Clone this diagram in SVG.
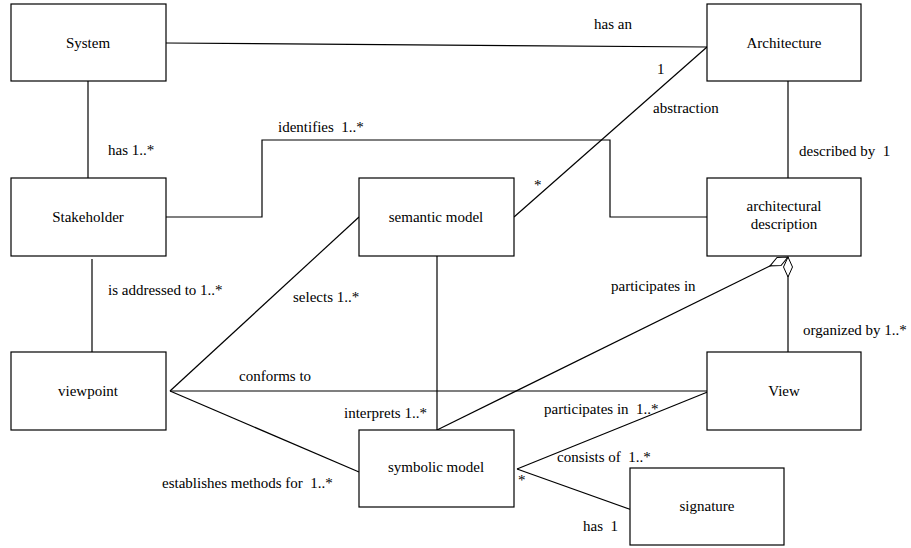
<svg xmlns="http://www.w3.org/2000/svg" width="911" height="548" viewBox="0 0 911 548">
<style>
  .box { fill: #ffffff; stroke: #000000; stroke-width: 1.2; }
  .conn { fill: none; stroke: #000000; stroke-width: 1.2; }
  .t { font-family: 'Liberation Serif', 'Times New Roman', serif; font-size: 15px; fill: #000000; }
  .c { text-anchor: middle; }
</style>
<defs>
  <marker id="diamond" markerUnits="userSpaceOnUse" viewBox="0 0 22 10" refX="21" refY="5" markerWidth="22" markerHeight="10" orient="auto">
    <path d="M1,5 L11,0.5 L21,5 L11,9.5 Z" fill="#ffffff" stroke="#000000" stroke-width="1"/>
  </marker>
</defs>
<rect width="911" height="548" fill="#ffffff"/>
<g id="connectors">
  <path class="conn" d="M166,43 L707,47"/>
  <path class="conn" d="M88,81 L88,182"/>
  <path class="conn" d="M166,217 L262,217 L262,140 L610,140 L610,217 L707,217"/>
  <path class="conn" d="M92,259 L92,352"/>
  <path class="conn" d="M514,217 L707,47"/>
  <path class="conn" d="M170,391 L359,217"/>
  <path class="conn" d="M170,391 L707,391"/>
  <path class="conn" d="M170,391 L359,472"/>
  <path class="conn" d="M437,256 L437,430"/>
  <path class="conn" d="M437,430 L788,257" marker-end="url(#diamond)"/>
  <path class="conn" d="M788,352 L788,257" marker-end="url(#diamond)"/>
  <path class="conn" d="M517,469 L710,391"/>
  <path class="conn" d="M517,469 L632,510"/>
  <path class="conn" d="M788,81 L788,178"/>
  <g class="t">
    <text x="594" y="29">has an</text>
    <text x="657" y="74">1</text>
    <text x="653" y="113">abstraction</text>
    <text x="534" y="190">*</text>
    <text x="799" y="156">described by&#160; 1</text>
    <text x="278" y="132">identifies&#160; 1..*</text>
    <text x="108" y="155">has 1..*</text>
    <text x="108" y="295">is addressed to 1..*</text>
    <text x="293" y="302">selects 1..*</text>
    <text x="239" y="381">conforms to</text>
    <text x="344" y="418">interprets 1..*</text>
    <text x="162" y="488">establishes methods for&#160; 1..*</text>
    <text x="611" y="291">participates in</text>
    <text x="803" y="335">organized by 1..*</text>
    <text x="544" y="414">participates in&#160; 1..*</text>
    <text x="557" y="462">consists of&#160; 1..*</text>
    <text x="518" y="485">*</text>
    <text x="583" y="531">has&#160; 1</text>
  </g>
</g>
<g id="system">
  <rect class="box" x="11" y="4" width="155" height="77"/>
  <text class="t c" x="88" y="48">System</text>
</g>
<g id="stakeholder">
  <rect class="box" x="11" y="178" width="155" height="78"/>
  <text class="t c" x="88" y="222">Stakeholder</text>
</g>
<g id="viewpoint">
  <rect class="box" x="11" y="352" width="155" height="78"/>
  <text class="t c" x="88" y="396">viewpoint</text>
</g>
<g id="semantic-model">
  <rect class="box" x="359" y="178" width="155" height="78"/>
  <text class="t c" x="436" y="222">semantic model</text>
</g>
<g id="symbolic-model">
  <rect class="box" x="359" y="430" width="155" height="77"/>
  <text class="t c" x="436" y="472">symbolic model</text>
</g>
<g id="architecture">
  <rect class="box" x="707" y="4" width="154" height="77"/>
  <text class="t c" x="784" y="48">Architecture</text>
</g>
<g id="architectural-description">
  <rect class="box" x="707" y="178" width="154" height="78"/>
  <text class="t c" x="784" y="211">architectural</text>
  <text class="t c" x="784" y="229">description</text>
</g>
<g id="view">
  <rect class="box" x="707" y="352" width="154" height="78"/>
  <text class="t c" x="784" y="396">View</text>
</g>
<g id="signature">
  <rect class="box" x="630" y="468" width="154" height="77"/>
  <text class="t c" x="707" y="511">signature</text>
</g>
</svg>
